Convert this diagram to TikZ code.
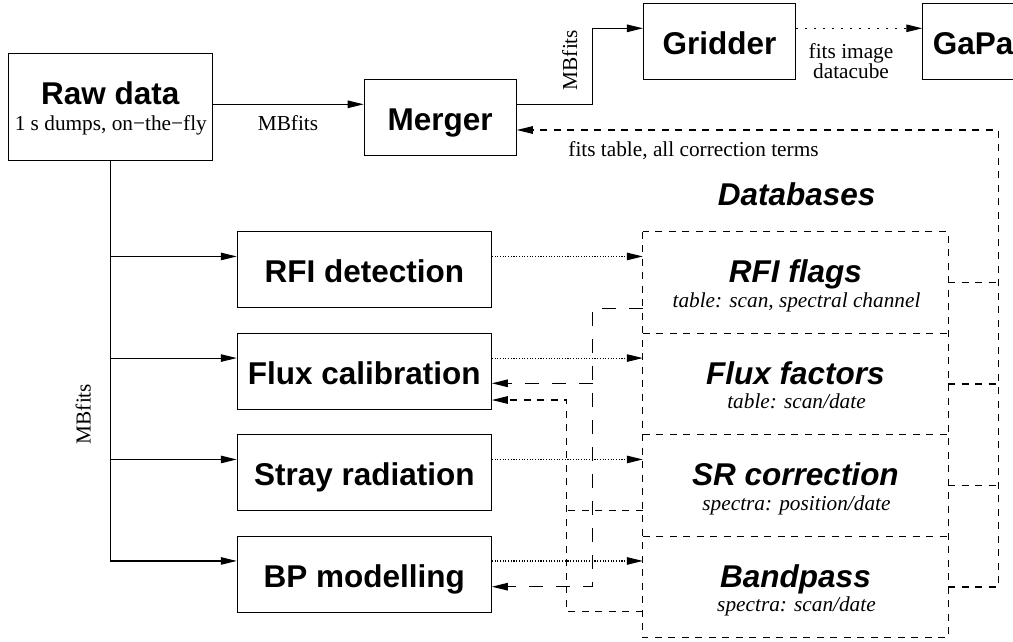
\documentclass[tikz,border=0pt]{standalone}
\usepackage{fontspec}
\setmainfont{Liberation Serif}
\setsansfont{Liberation Sans}
\usetikzlibrary{arrows.meta}
\begin{document}
\begin{tikzpicture}[x=1pt,y=-1pt,
  lw/.style={line width=1.1pt},
  box/.style={draw,lw,inner sep=0pt,font=\sffamily\bfseries\fontsize{31.5}{36}\selectfont},
  tbox/.style={box,text height=51pt,text depth=25pt},
  proc/.style={tbox,minimum width=254pt},
  tit/.style={font=\sffamily\bfseries\fontsize{31.5}{36}\selectfont,inner sep=0pt,anchor=base},
  dbt/.style={font=\sffamily\bfseries\itshape\fontsize{31.5}{36}\selectfont,inner sep=0pt,anchor=base},
  sub/.style={font=\fontsize{21.3}{25}\selectfont,inner sep=0pt,anchor=base},
  dbs/.style={font=\itshape\fontsize{21.3}{25}\selectfont,inner sep=0pt,anchor=base},
  arr/.style={-{Triangle[length=16pt,width=7.5pt]}},
  sdash/.style={lw,dash pattern=on 7pt off 6.5pt},
  ldash/.style={lw,dash pattern=on 14pt off 13pt},
  fdots/.style={lw,dash pattern=on 1.1pt off 1.6pt},
  sdots/.style={lw,dash pattern=on 1.5pt off 7.5pt},
  dbarea/.style={minimum width=305pt,inner sep=0pt,text height=51pt,text depth=50.5pt,
    font=\sffamily\bfseries\itshape\fontsize{31.5}{36}\selectfont}
]
\path[fill=white] (0,0) rectangle (1013,641);
\useasboundingbox (0,0) rectangle (1013,641);

% top row
\node[box,minimum width=204pt,text height=50.2pt,text depth=56.8pt] (raw) at (110.3,107.3) {Raw data};
\node[sub] (raws) at (110.8,130.5) {1 s dumps, on−the−fly};
\node[tbox,minimum width=152pt] (merger) at (440.2,117.2) {Merger};
\node[tbox,minimum width=152pt] (gridder) at (719.5,41.3) {Gridder};
\node[box,text height=51pt,text depth=25pt,text width=132pt,inner xsep=10pt,align=left,anchor=north west] (gapa) at (922.3,3.3) {GaPa};

% processing boxes
\node[proc] (rfi) at (364.3,269.7) {RFI detection};
\node[proc] (flux) at (364.3,371.3) {Flux calibration};
\node[proc] (stray) at (364.3,472.7) {Stray radiation};
\node[proc] (bp) at (364.3,574.2) {BP modelling};

% databases
\node[dbt] (dbhead) at (796.7,205) {Databases};
\node[dbarea] (rfiF) at (795.5,282.45) {RFI flags};
\node[dbarea] (fluxF) at (795.5,383.95) {Flux factors};
\node[dbarea] (srF) at (795.5,485.45) {SR correction};
\node[dbarea] (bpF) at (795.5,586.95) {Bandpass};
\node[dbs] (rfiS) at (796.5,307.2) {table: scan, spectral channel};
\node[dbs] (fluxS) at (796.5,408.7) {table: scan/date};
\node[dbs] (srS) at (796.5,510.2) {spectra: position/date};
\node[dbs] (bpS) at (796.5,611.7) {spectra: scan/date};
\draw[sdash] (rfiF.north west) rectangle (bpF.south east);
\draw[sdash] (rfiF.south west) -- (rfiF.south east);
\draw[sdash] (fluxF.south west) -- (fluxF.south east);
\draw[sdash] (srF.south west) -- (srF.south east);

% labels
\node[sub] (l1) at (288,130.7) {MBfits};
\node[sub,rotate=90] (l2) at (577,60) {MBfits};
\node[sub,rotate=90] (l3) at (90.7,414) {MBfits};
\node[sub] (l4) at (851,58.3) {fits image};
\node[sub] (l5) at (851,78.5) {datacube};
\node[sub] (l6) at (693.5,156) {fits table, all correction terms};

% coordinates
\coordinate (mainY) at (0,104.3);
\coordinate (gbend) at (592.3,28.3);
\coordinate (busR) at (998.5,130);
\coordinate (rfiin) at ([yshift=-25.3pt]rfi.north west);
\coordinate (fluxin) at ([yshift=-25.3pt]flux.north west);
\coordinate (strayin) at ([yshift=-25.3pt]stray.north west);
\coordinate (bpin) at ([yshift=-25.3pt]bp.north west);
\coordinate (ldtop) at (592.7,308.3);
\coordinate (ldmid) at (592.7,383.3);
\coordinate (ldbot) at (592.7,586.7);
\coordinate (sdA) at (566.7,611.7);
\coordinate (sdB) at (566.7,400);
\coordinate (sdC) at (566.7,510.7);

% solid flow
\draw[lw,arr] (mainY -| raw.east) -- (mainY -| merger.west);
\draw[lw,arr] (mainY -| merger.east) -| (gbend) -- (gbend -| gridder.west);
\draw[sdots,arr] (gbend -| gridder.east) -- (gbend -| gapa.west);
\draw[lw] (raw.south) -- (bpin -| raw.south);
\draw[lw,arr] (rfiin -| raw.south) -- (rfiin);
\draw[lw,arr] (fluxin -| raw.south) -- (fluxin);
\draw[lw,arr] (strayin -| raw.south) -- (strayin);
\draw[lw,arr] (bpin -| raw.south) -- (bpin);

% dotted to databases
\draw[fdots,arr] (rfiin -| rfi.east) -- (rfiin -| rfiF.west);
\draw[fdots,arr] (fluxin -| flux.east) -- (fluxin -| fluxF.west);
\draw[fdots,arr] (strayin -| stray.east) -- (strayin -| srF.west);
\draw[fdots,arr] (bpin -| bp.east) -- (bpin -| bpF.west);

% RFI flags feedback (long dashes)
\draw[ldash,arr] (ldtop -| rfiF.west) -- (ldtop) -- (ldbot) -- (ldbot -| bp.east);
\draw[ldash,arr] (ldmid) -- (ldmid -| flux.east);

% SR / bandpass feedback (short dashes)
\draw[sdash,arr] (sdA -| bpF.west) -- (sdA) -- (sdB) -- (sdB -| flux.east);
\draw[sdash] (sdC -| srF.west) -- (sdC);

% collection to merger
\draw[sdash,arr] (bpF.east) -| (busR) -- (busR -| merger.east);
\draw[sdash] (rfiF.east) -- (rfiF.east -| busR);
\draw[sdash] (fluxF.east) -- (fluxF.east -| busR);
\draw[sdash] (srF.east) -- (srF.east -| busR);
\end{tikzpicture}
\end{document}
